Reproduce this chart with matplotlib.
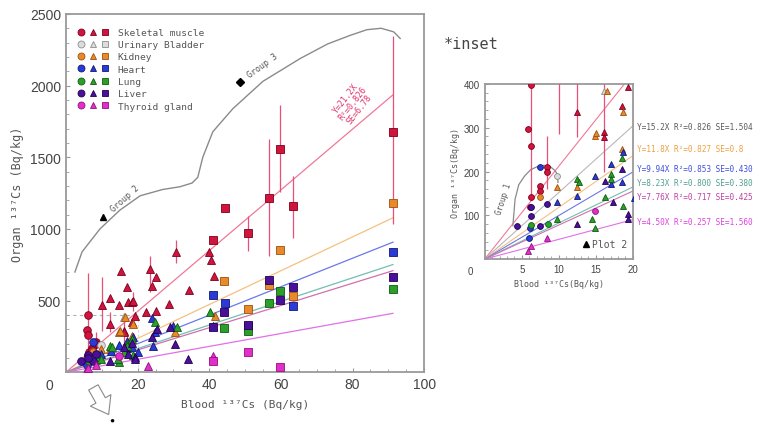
import numpy as np
import matplotlib.pyplot as plt
from matplotlib.lines import Line2D
from matplotlib.legend_handler import HandlerTuple
from matplotlib.patches import FancyArrowPatch

# ---- data (group: 1 = circle, 2 = triangle, 3 = square) ----
organs = ["Skeletal muscle", "Urinary Bladder", "Kidney", "Heart", "Lung", "Liver", "Thyroid gland"]

muscle_x = [6.2, 5.9, 6.2, 6.3, 6.1, 8.4, 8.4, 7.4, 7.4,
            12.4, 16.1, 16.1, 18.5, 30.7, 23.5, 15.3, 17.0, 25.1, 24.0, 34.4, 40.0, 40.5, 41.4,
            12.3, 14.8, 10.0, 17.3, 18.4, 18.7, 28.8, 19.3, 22.3, 25.1,
            44.4, 50.8, 56.7, 59.8, 63.4, 91.3, 41.0]
muscle_y = [398, 297, 259, 141, 119, 210, 198, 168, 156,
            335, 290, 278, 350, 839, 720, 706, 594, 664, 601, 573, 839, 783, 671,
            517, 469, 469, 490, 490, 497, 475, 392, 420, 427,
            1147, 972, 1217, 1559, 1161, 1678, 923]
muscle_g = [1, 1, 1, 1, 1, 1, 1, 1, 1,
            2, 2, 2, 2, 2, 2, 2, 2, 2, 2, 2, 2, 2, 2,
            2, 2, 2, 2, 2, 2, 2, 2, 2, 2,
            3, 3, 3, 3, 3, 3, 3]
# error bar ranges (low, high) for some muscle points, by index
muscle_err = {0: (140, 690), 5: (160, 282), 25: (285, 664), 9: (278, 420), 10: (200, 400),
              14: (560, 810), 13: (760, 920), 28: (430, 560),
              34: (846, 1090), 35: (811, 1629), 36: (1259, 1867), 37: (937, 1371), 38: (1035, 2343)}

bladder_x = [16.1, 9.8]
bladder_y = [385, 190]
bladder_g = [2, 1]

kidney_x = [14.9, 9.8, 12.4, 7.5, 18.5, 16.5, 18.7, 30.4, 41.6, 15.0,
            44.1, 50.9, 59.8, 56.7, 63.4, 91.3]
kidney_y = [282, 164, 165, 141, 251, 385, 336, 280, 392, 287,
            636, 440, 853, 608, 531, 1182]
kidney_g = [2, 2, 2, 1, 2, 2, 2, 2, 2, 2,
            3, 3, 3, 3, 3, 3]

heart_x = [7.5, 14.9, 9.8, 12.5, 6.1, 17.1, 18.5, 6.0, 24.0, 18.7, 24.3, 20.1, 17.0, 24.9, 29.9,
           41.0, 44.4, 50.8, 91.3, 63.4]
heart_y = [210, 190, 130, 145, 72, 171, 175, 48, 378, 245, 182, 140, 217, 280, 322,
           538, 483, 322, 839, 462]
heart_g = [1, 2, 2, 2, 1, 2, 2, 1, 2, 2, 2, 2, 2, 2, 2,
           3, 3, 3, 3, 3]

lung_x = [12.4, 17.1, 18.5, 14.9, 16.2, 9.8, 8.6, 6.3, 18.7, 31.0, 24.9, 40.2, 14.5, 17.0, 12.8,
          59.8, 56.7, 44.2, 50.8, 91.3]
lung_y = [183, 194, 232, 72, 141, 92, 81, 77, 122, 315, 350, 420, 91, 182, 175,
          566, 483, 308, 287, 580]
lung_g = [2, 2, 2, 2, 2, 2, 1, 1, 2, 2, 2, 2, 2, 2, 2,
          3, 3, 3, 3, 3]

liver_x = [4.3, 6.2, 8.4, 7.5, 12.4, 16.2, 18.5, 17.3, 19.4, 6.2, 25.4, 29.0, 30.4, 34.0, 41.0,
           19.3, 24.0, 56.7, 59.8, 63.4, 44.2, 91.3, 41.0, 50.8]
liver_y = [76, 118, 126, 76, 80, 179, 205, 130, 103, 99, 301, 315, 196, 91, 322,
           91, 245, 643, 503, 594, 420, 664, 315, 330]
liver_g = [1, 1, 1, 1, 2, 2, 2, 2, 2, 1, 2, 2, 2, 2, 2,
           2, 2, 3, 3, 3, 3, 3, 3, 3]

thyroid_x = [5.9, 8.4, 14.9, 6.2, 41.0, 23.0, 50.8, 59.8, 41.0]
thyroid_y = [19, 49, 110, 30, 112, 42, 140, 35, 77]
thyroid_g = [2, 2, 1, 2, 2, 2, 3, 3, 3]

# regression slopes (Y = a X)
slope_muscle = 21.2
slope_bladder = 15.2
slope_kidney = 11.8
slope_heart = 9.94
slope_lung = 8.23
slope_liver = 7.76
slope_thyroid = 4.50

eq_texts = ["Y=15.2X R²=0.826 SE=1.504", "Y=11.8X R²=0.827 SE=0.8",
            "Y=9.94X R²=0.853 SE=0.430", "Y=8.23X R²=0.800 SE=0.380",
            "Y=7.76X R²=0.717 SE=0.425", "Y=4.50X R²=0.257 SE=1.560"]

# group outlines
brace_x = [2.5, 4.5, 9.5, 15, 20.7, 27, 31.8, 35.2, 36.8, 37.4, 38.2, 41, 46.6, 55, 65.4, 73, 79.3, 84, 88, 91.5, 93.3]
brace_y = [699, 840, 1000, 1130, 1231, 1275, 1294, 1320, 1360, 1420, 1500, 1678, 1839, 2030, 2189, 2290, 2350, 2390, 2400, 2375, 2329]
g1_x = [3.8, 4.1, 4.6, 5.4, 6.2, 7.2, 8.0, 8.8, 9.5, 9.8, 9.9]
g1_y = [76, 137, 170, 190, 204, 212, 214, 212, 202, 194, 175]

# ---- styles ----
face = ['#d0143c', '#dcdcdc', '#e8892a', '#2a3ad8', '#2aa02a', '#4a109a', '#e030c8']
edge = ['#7a0020', '#8c8c8c', '#9a5010', '#101870', '#0f5a0f', '#200050', '#901080']
line_col = ['#f07898', '#b8b8b8', '#f5c080', '#6a78e8', '#70c0b0', '#d070b0', '#e070e8']
eq_col = ['#5a5a5a', '#f0a040', '#4050e0', '#50a090', '#c040a0', '#e040e0']
shape = {1: 'o', 2: '^', 3: 's'}
mono = 'DejaVu Sans Mono'
gray = '#555555'

xs = [muscle_x, bladder_x, kidney_x, heart_x, lung_x, liver_x, thyroid_x]
ys = [muscle_y, bladder_y, kidney_y, heart_y, lung_y, liver_y, thyroid_y]
gs = [muscle_g, bladder_g, kidney_g, heart_g, lung_g, liver_g, thyroid_g]
slopes = [slope_muscle, slope_bladder, slope_kidney, slope_heart, slope_lung, slope_liver, slope_thyroid]

plt.rcParams['font.family'] = ['Liberation Sans', 'DejaVu Sans']

fig = plt.figure(figsize=(7.67, 4.27), dpi=100)
ax = fig.add_axes([0.086, 0.126, 0.467, 0.839])
axi = fig.add_axes([0.632, 0.391, 0.193, 0.41])


def draw_points(a, ms):
    for k in range(len(organs)):
        x = np.array(xs[k]); y = np.array(ys[k]); g = np.array(gs[k])
        for grp, m in shape.items():
            sel = g == grp
            if sel.any():
                a.plot(x[sel], y[sel], m, ms=ms, mfc=face[k], mec=edge[k], mew=0.6, ls='none', zorder=4)


def style_axes(a):
    for s in a.spines.values():
        s.set_color('#9a9a9a')
        s.set_linewidth(1.3)
    a.tick_params(direction='in', colors='#9a9a9a', labelcolor='#444444', length=3)
    a.tick_params(which='minor', direction='in', colors='#9a9a9a', length=2)


# ---- main axes ----
for k, a_ in enumerate(slopes):
    if k == 1:
        continue
    xx = np.array([0, 91.3])
    ax.plot(xx, a_ * xx, color=line_col[k], lw=0.9, zorder=2)

mx = np.array(muscle_x); my = np.array(muscle_y)
for i, (lo, hi) in muscle_err.items():
    ax.vlines(mx[i], lo, hi, color='#e8507a', lw=0.9, zorder=3)
    axi.vlines(mx[i], lo, hi, color='#e8507a', lw=0.9, zorder=3)

draw_points(ax, 5.5)

ax.plot([0, 20], [400, 400], ls=(0, (3, 3)), color='#b0b0b0', lw=0.8, zorder=1)
ax.plot([20, 20], [0, 400], ls=(0, (3, 3)), color='#d0d0d0', lw=0.6, zorder=1)
ax.plot(brace_x, brace_y, color='#8a8a8a', lw=1.0, zorder=2)

ax.plot(10.4, 1084, '^', color='black', ms=5)
ax.text(12.0, 1110, 'Group 2', rotation=42, fontsize=6, family=mono, color=gray, ha='left', va='bottom')
ax.plot(48.6, 2028, 'D', color='black', ms=4)
ax.text(50.2, 2045, 'Group 3', rotation=36, fontsize=6, family=mono, color=gray, ha='left', va='bottom')
ax.text(80, 1880, 'Y=21.2X\nR²=0.826\nSE=6.78', rotation=52, fontsize=6, family=mono,
        color='#e0306a', ha='center', va='center', linespacing=1.0)

ax.set_xlim(0, 100)
ax.set_ylim(0, 2500)
ax.set_xticks([0, 20, 40, 60, 80, 100])
ax.set_xticklabels(['', '20', '40', '60', '80', '100'])
ax.set_xticks(np.arange(0, 101, 5), minor=True)
ax.set_yticks([500, 1000, 1500, 2000, 2500])
ax.set_yticks(np.arange(0, 2501, 100), minor=True)
ax.tick_params(labelsize=10)
style_axes(ax)
ax.text(-4.5, -90, '0', fontsize=10, color='#444444', ha='center', va='center', clip_on=False)
ax.set_xlabel('Blood ¹³⁷Cs (Bq/kg)', family=mono, fontsize=8, color=gray, labelpad=6)
ax.set_ylabel('Organ ¹³⁷Cs (Bq/kg)', family=mono, fontsize=8.5, color=gray, labelpad=4)

handles = []
for k in range(len(organs)):
    handles.append(tuple(Line2D([], [], marker=m, ls='none', ms=5, mfc=face[k], mec=edge[k], mew=0.6)
                         for m in ['o', '^', 's']))
leg = ax.legend(handles, organs, handler_map={tuple: HandlerTuple(ndivide=None, pad=0.6)},
                loc='upper left', bbox_to_anchor=(0.01, 0.985), frameon=False, handlelength=3.2,
                handletextpad=1.0, labelspacing=0.35, prop={'family': mono, 'size': 6.8})
for t in leg.get_texts():
    t.set_color(gray)

# ---- inset ----
for k, a_ in enumerate(slopes):
    xx = np.array([0, 20])
    axi.plot(xx, a_ * xx, color=line_col[k], lw=0.8, zorder=2)
draw_points(axi, 4.2)
axi.plot(g1_x, g1_y, color='#8a8a8a', lw=0.9, zorder=2)
axi.text(2.6, 140, 'Group 1', rotation=72, fontsize=5.5, family=mono, color=gray, ha='center', va='center')
axi.plot(13.7, 34, '^', color='black', ms=5)
axi.text(14.5, 34, 'Plot 2', fontsize=7, family=mono, color=gray, ha='left', va='center')
axi.set_xlim(0, 20)
axi.set_ylim(0, 400)
axi.set_xticks([0, 5, 10, 15, 20])
axi.set_xticklabels(['', '5', '10', '15', '20'])
axi.set_xticks(np.arange(0, 21, 1), minor=True)
axi.set_yticks([100, 200, 300, 400])
axi.set_yticks(np.arange(0, 401, 20), minor=True)
axi.tick_params(labelsize=7)
style_axes(axi)
axi.text(-2.0, -28, '0', fontsize=7, color='#444444', ha='center', va='center', clip_on=False)
axi.set_xlabel('Blood ¹³⁷Cs(Bq/kg)', family=mono, fontsize=6, color=gray, labelpad=4)
axi.set_ylabel('Organ ¹³⁷Cs(Bq/kg)', family=mono, fontsize=6, color=gray, labelpad=3)

fig.text(0.578, 0.895, '*inset', family=mono, fontsize=11, color='#444444', ha='left', va='center')

eq_y = [0.702, 0.649, 0.602, 0.571, 0.538, 0.480]
for t, c, yy in zip(eq_texts, eq_col, eq_y):
    fig.text(0.830, yy, t, family=mono, fontsize=5.6, color=c, ha='left', va='center')

# hollow arrow under the x axis
arr = FancyArrowPatch((92 / 767, 1 - 386 / 427), (110 / 767, 1 - 418 / 427), transform=fig.transFigure,
                      arrowstyle='simple,head_width=1.3,head_length=0.9,tail_width=0.6', mutation_scale=13,
                      facecolor='white', edgecolor='#8a8a8a', lw=0.8)
fig.patches.append(arr)
fig.text(112 / 767, 1 - 421 / 427, '●', fontsize=6, color='black', ha='center', va='center')

fig.savefig('out.png', dpi=100)
